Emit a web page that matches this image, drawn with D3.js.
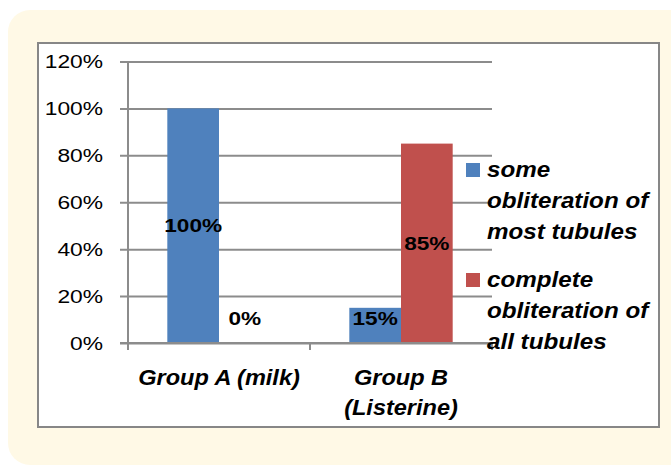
<!DOCTYPE html>
<html>
<head>
<meta charset="utf-8">
<script src="https://cdn.jsdelivr.net/npm/d3@7"></script>
<style>
  html, body { margin: 0; padding: 0; background: #ffffff; }
  svg { display: block; }
  text { font-family: "Liberation Sans", Arial, sans-serif; fill: #000; }
</style>
</head>
<body>
<svg id="chart" width="671" height="465"></svg>
<script>
// Chart data
const groups = ["Group A (milk)", "Group B (Listerine)"];
const groupLines = [["Group A (milk)"], ["Group B", "(Listerine)"]];
const seriesNames = ["some obliteration of most tubules", "complete obliteration of all tubules"];
const seriesLegendLines = [["some", "obliteration of", "most tubules"], ["complete", "obliteration of", "all tubules"]];
const someObliteration = [100, 15];
const completeObliteration = [0, 85];
const yTicks = [0, 20, 40, 60, 80, 100, 120];
const colors = ["#4F81BD", "#C0504D"];

const seriesValues = [someObliteration, completeObliteration];

const svg = d3.select("#chart");

// Text helper: wide, Calibri-like proportions via horizontal scaling
function label(parent, x, y, str, opts) {
  const o = Object.assign({ size: 20, sx: 1, anchor: "start", weight: "normal", style: "normal", dy: null }, opts);
  const t = parent.append("text")
    .attr("transform", `translate(${x},${y}) scale(${o.sx},1)`)
    .attr("text-anchor", o.anchor)
    .attr("font-size", o.size)
    .attr("font-weight", o.weight)
    .attr("font-style", o.style)
    .text(str);
  if (o.dy) t.attr("dy", o.dy);
  return t;
}

// Cream panel behind the chart
svg.append("rect")
  .attr("x", 8).attr("y", 10)
  .attr("width", 690).attr("height", 455)
  .attr("rx", 22).attr("ry", 22)
  .attr("fill", "#FFF9E6");

// White chart frame
svg.append("rect")
  .attr("x", 38).attr("y", 43)
  .attr("width", 621).attr("height", 384)
  .attr("fill", "#ffffff")
  .attr("stroke", "#878787")
  .attr("stroke-width", 2);

const plot = { left: 128, right: 492, top: 61.5, bottom: 343 };

const y = d3.scaleLinear().domain([0, 120]).range([plot.bottom, plot.top]);
const x0 = d3.scaleBand().domain(groups).range([plot.left, plot.right])
  .paddingInner(0.432).paddingOuter(0.216);
const x1 = d3.scaleBand().domain([0, 1]).range([0, x0.bandwidth()]);

// Gridlines with left tick marks
const gy = svg.append("g")
  .attr("transform", `translate(${plot.left},0)`)
  .call(d3.axisLeft(y).tickValues(yTicks).tickSize(-(plot.right - plot.left)).tickSizeOuter(0).tickFormat(""));
gy.select(".domain").remove();
gy.selectAll(".tick line")
  .attr("x1", -8)
  .attr("stroke", "#8C8C8C")
  .attr("stroke-width", 2);

// Y tick labels
yTicks.forEach(t => {
  label(svg, 103, y(t), t + "%", { size: 19, sx: 1.2, anchor: "end", dy: "0.35em" });
});

// Vertical axis line
svg.append("line")
  .attr("x1", plot.left).attr("x2", plot.left)
  .attr("y1", y(120)).attr("y2", y(0) + 7)
  .attr("stroke", "#8C8C8C").attr("stroke-width", 2);

// Bars
const gBars = svg.append("g");
groups.forEach((g, gi) => {
  seriesValues.forEach((vals, si) => {
    const v = vals[gi];
    gBars.append("rect")
      .attr("x", x0(g) + x1(si))
      .attr("y", y(v))
      .attr("width", x1.bandwidth())
      .attr("height", y(0) - y(v))
      .attr("fill", colors[si]);
  });
});

// X axis line and category ticks
svg.append("line")
  .attr("x1", plot.left - 8).attr("x2", plot.right)
  .attr("y1", y(0)).attr("y2", y(0))
  .attr("stroke", "#8C8C8C").attr("stroke-width", 2);
const step = x0.step();
[0, 1, 2].forEach(i => {
  const xx = plot.left + i * step;
  svg.append("line")
    .attr("x1", xx).attr("x2", xx)
    .attr("y1", y(0)).attr("y2", y(0) + 7)
    .attr("stroke", "#8C8C8C").attr("stroke-width", 2);
});

// Data labels
groups.forEach((g, gi) => {
  seriesValues.forEach((vals, si) => {
    const v = vals[gi];
    const cx = x0(g) + x1(si) + x1.bandwidth() / 2;
    const cy = Math.min((y(v) + y(0)) / 2, y(0) - 25);
    label(svg, cx, cy, v + "%", { size: 19, sx: 1.19, anchor: "middle", weight: "bold", dy: "0.35em" });
  });
});

// Category labels
groups.forEach((g, gi) => {
  const cx = x0(g) + x0.bandwidth() / 2;
  groupLines[gi].forEach((line, li) => {
    label(svg, cx, 385 + li * 30, line, { size: 22, sx: 1.07, anchor: "middle", weight: "bold", style: "italic" });
  });
});

// Legend
const legendTop = [163, 273];
seriesNames.forEach((name, si) => {
  svg.append("rect")
    .attr("x", 466).attr("y", legendTop[si])
    .attr("width", 14).attr("height", 14)
    .attr("fill", colors[si]);
  seriesLegendLines[si].forEach((line, li) => {
    label(svg, 487, legendTop[si] + 14 + li * 31, line, { size: 22, sx: 1.1, weight: "bold", style: "italic" });
  });
});
</script>
</body>
</html>
